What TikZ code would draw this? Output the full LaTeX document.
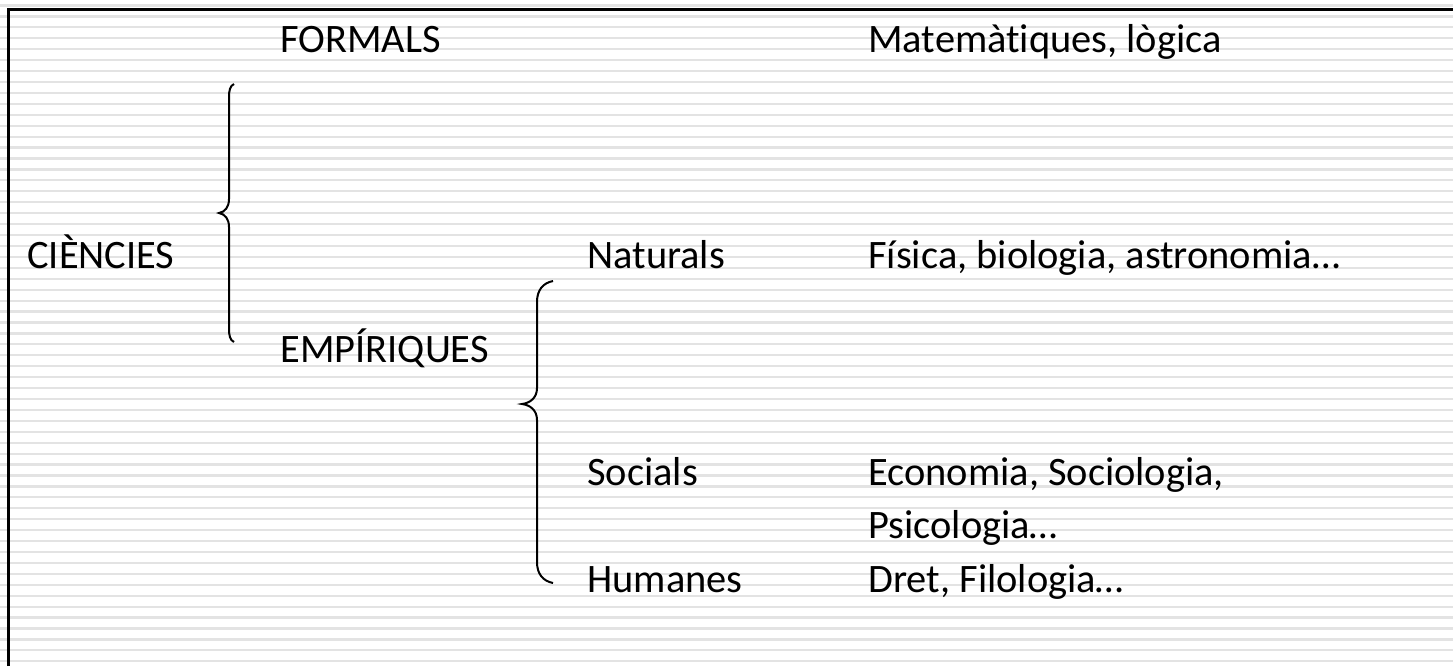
\documentclass[tikz,border=0pt]{standalone}
\usepackage{fontspec}
\setmainfont[RawFeature={-liga;-clig;-dlig;-calt}]{Carlito}
\usetikzlibrary{positioning}
\tikzstyle{term} = [anchor=base west,inner sep=0,font=\fontsize{20.2}{24}\selectfont]
\tikzstyle{stripe} = [line width=1.1pt,draw=black!11]
\tikzstyle{curly} = [line width=1pt]
\begin{document}
\begin{tikzpicture}[x=0.5pt,y=-0.5pt]
  \useasboundingbox (0,0) rectangle (1453,666);
  % ruled background
  \foreach \k in {0,...,60}
    \draw[stripe] (0,{5.5+10.93*\k}) -- (1453,{5.5+10.93*\k});
  \draw[line width=1.5pt] (8,666) -- (8,9) -- (1453,9);
  % first level
  \node[term] (cien) at (27,268) {CIÈNCIES};
  \node[term] (form) at (280,52) {FORMALS};
  \node[term] (emp) at (280,362) {EMPÍRIQUES};
  \node[term] (mat) at (868,52) {Matemàtiques, lògica};
  % empirical branches
  \node[term] (nat) at (587,268) {Naturals};
  \node[term] (soc) at (587,485) {Socials};
  \node[term] (hum) at (587,592) {Humanes};
  \node[term] (fis) at (868,268) {Física, biologia, astronomia…};
  \node[term] (eco) at (868,485) {Economia, Sociologia,};
  \node[term] (psi) at (868,538) {Psicologia…};
  \node[term] (dre) at (868,592) {Dret, Filologia…};
  % braces
  \draw[curly] (234,84) .. controls (230,86) and (229,90) .. (229,98) -- (229,199)
    .. controls (229,207) and (225,212) .. (219,213)
    .. controls (225,214) and (229,219) .. (229,227) -- (229,328)
    .. controls (229,336) and (230,340) .. (234,342);
  \draw[curly] (553,281) .. controls (543,283) and (537,290) .. (537,302) -- (537,388)
    .. controls (537,398) and (530,403) .. (522,404)
    .. controls (530,405) and (537,410) .. (537,420) -- (537,562)
    .. controls (537,574) and (543,581) .. (553,583);
\end{tikzpicture}
\end{document}
